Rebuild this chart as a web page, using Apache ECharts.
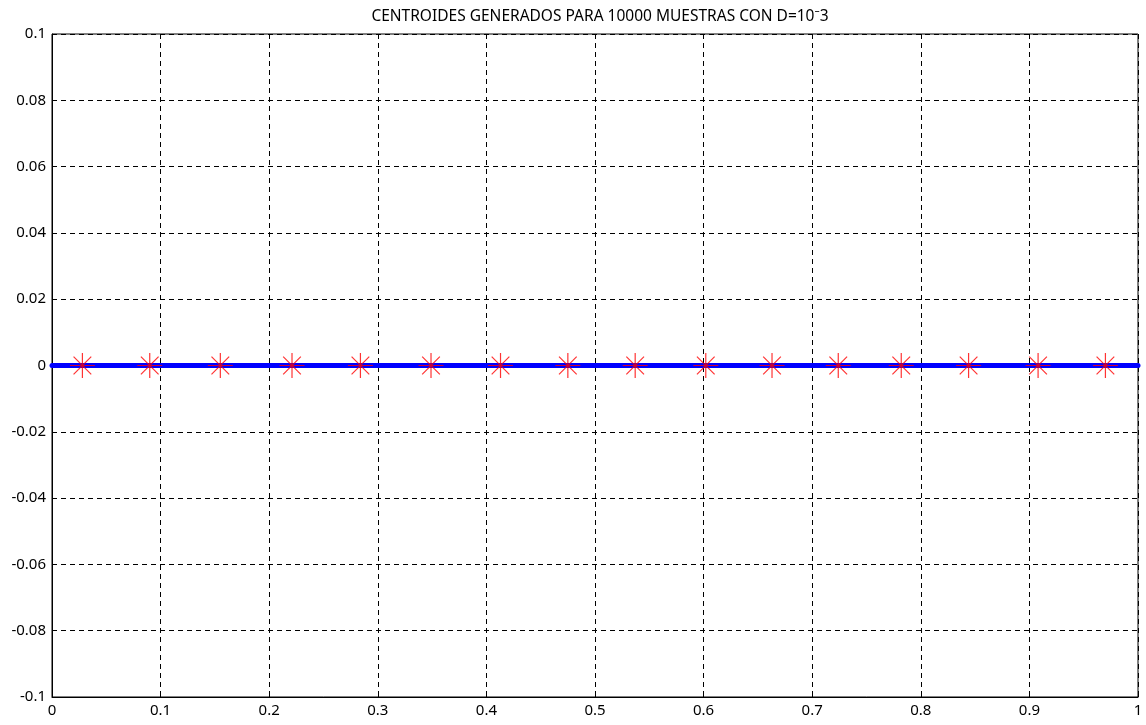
<!DOCTYPE html>
<html>
<head>
<meta charset="utf-8">
<script src="https://cdn.jsdelivr.net/npm/echarts@6/dist/echarts.min.js"></script>
<style>
  html, body { margin: 0; padding: 0; background: #fff; }
  #chart { width: 1146px; height: 725px; }
</style>
</head>
<body>
<div id="chart"></div>
<script>
// centroides (eje x), todos en y = 0
var centroidesX = [0.028, 0.090, 0.155, 0.221, 0.284, 0.349, 0.413, 0.475,
                   0.537, 0.602, 0.663, 0.724, 0.782, 0.844, 0.908, 0.970];
var centroidesY = [0, 0, 0, 0, 0, 0, 0, 0, 0, 0, 0, 0, 0, 0, 0, 0];
// linea azul de las muestras
var lineaX = [0, 1];
var lineaY = [0, 0];

var titulo = 'CENTROIDES GENERADOS PARA 10000 MUESTRAS CON D=10\u207B3';

// asterisco tipo matlab (+ y x)
var asterisco = 'path://M0,12.5L25,12.5M12.5,0L12.5,25M3.66,3.66L21.34,21.34M21.34,3.66L3.66,21.34';

var chart = echarts.init(document.getElementById('chart'));

var option = {
    animation: false,
    backgroundColor: '#fff',
    textStyle: { fontFamily: 'Noto Sans' },
    title: {
        text: titulo,
        left: 595,
        textAlign: 'center',
        top: 4,
        textStyle: { fontSize: 15.5, fontWeight: 'normal', color: '#000', fontFamily: 'Noto Sans' }
    },
    grid: {
        left: 52, right: 8, top: 34, bottom: 28,
        show: true, borderColor: '#000', borderWidth: 1
    },
    xAxis: {
        type: 'value', min: 0, max: 1, interval: 0.1,
        axisLine: { show: true, onZero: false, lineStyle: { color: '#000', width: 1 } },
        axisTick: { show: true, inside: true, length: 4, lineStyle: { color: '#000' } },
        axisLabel: { color: '#000', fontSize: 15, margin: 6 },
        splitLine: { show: true, lineStyle: { color: '#000', type: [5, 4], width: 1 } }
    },
    yAxis: {
        type: 'value', min: -0.1, max: 0.1, interval: 0.02,
        axisLine: { show: true, onZero: false, lineStyle: { color: '#000', width: 1 } },
        axisTick: { show: true, inside: true, length: 4, lineStyle: { color: '#000' } },
        axisLabel: { color: '#000', fontSize: 15, margin: 6,
            formatter: function (v) { return String(Math.round(v * 100) / 100); } },
        splitLine: { show: true, lineStyle: { color: '#000', type: [5, 4], width: 1 } }
    },
    series: [
        {
            type: 'line',
            data: lineaX.map(function (x, i) { return [x, lineaY[i]]; }),
            showSymbol: false,
            lineStyle: { color: '#0000ff', width: 5, cap: 'round' },
            z: 2
        },
        {
            type: 'scatter',
            data: centroidesX.map(function (x, i) { return [x, centroidesY[i]]; }),
            symbol: asterisco,
            symbolSize: 25,
            itemStyle: { color: 'none', borderColor: '#ff0000', borderWidth: 1.2 },
            z: 3
        }
    ]
};

chart.setOption(option);

window.addEventListener('resize', function () {
    setTimeout(function () { chart.resize(); }, 200);
});
</script>
</body>
</html>
